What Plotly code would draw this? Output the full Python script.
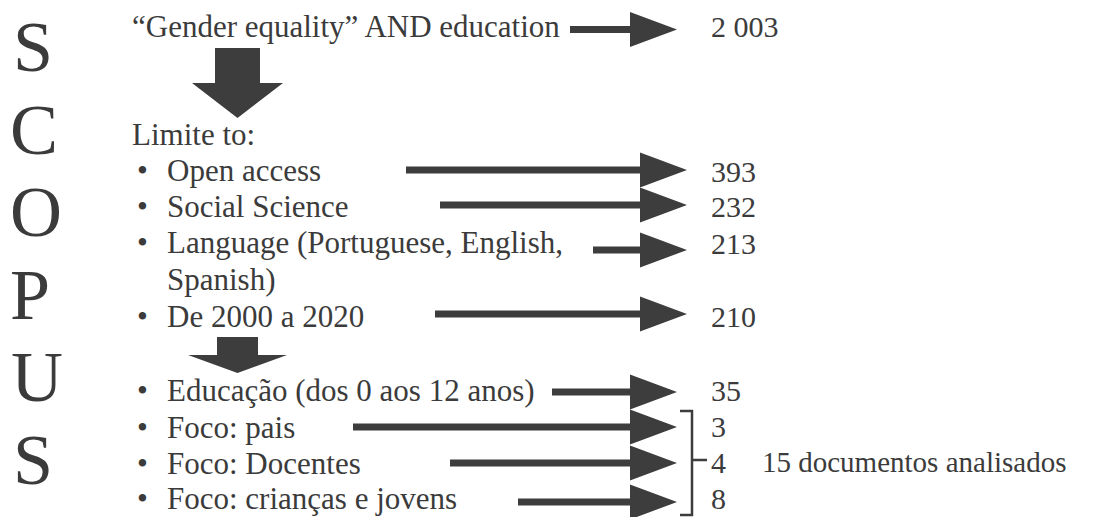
import plotly.graph_objects as go

# ---------------- data ----------------
side_letters = ["S", "C", "O", "P", "U", "S"]
query_text = "“Gender equality” AND education"
query_count = "2 003"
limit_title = "Limite to:"
filters_1 = ["Open access", "Social Science", "Language (Portuguese, English,", "De 2000 a 2020"]
filters_1_cont = "Spanish)"
counts_1 = [393, 232, 213, 210]
filters_2 = ["Educação (dos 0 aos 12 anos)", "Foco: pais", "Foco: Docentes", "Foco: crianças e jovens"]
counts_2 = [35, 3, 4, 8]
final_label = "15 documentos analisados"

# ---------------- layout parameters ----------------
W, H = 1101, 517
OFF = 8  # page body margin compensation
FONT = "Liberation Serif"
TXT = "#3b3b3b"
ARR = "#3d3d3d"
DY = -1  # text vertical nudge

letter_x = [12, 9, 9, 9, 10, 12]
letter_y = [49, 132, 214, 297, 379, 462]
query_y = 28
limit_y = 135
rows1_y = [171, 207, 243, 317]
cont_y = 280
rows2_y = [391, 428, 464, 499]
arrows1_y = [170, 205, 250, 314]
arrows1_x0 = [406, 440, 593, 435]
arrows2_y = [392, 427, 463, 502]
arrows2_x0 = [552, 353, 450, 518]
count1_y = [172, 207, 244, 317]
count2_y = [391, 427, 463, 499]


def h_arrow(x0, tip, y, t=7, hh=35, hl=47):
    hb = tip - hl
    return (f"M {x0},{y - t/2} L {hb},{y - t/2} L {hb},{y - hh/2} L {tip},{y} "
            f"L {hb},{y + hh/2} L {hb},{y + t/2} L {x0},{y + t/2} Z")


def v_arrow(xc, y0, yb, tip, sw, hw):
    return (f"M {xc - sw/2},{y0} L {xc + sw/2},{y0} L {xc + sw/2},{yb} L {xc + hw/2},{yb} "
            f"L {xc},{tip} L {xc - hw/2},{yb} L {xc - sw/2},{yb} Z")


shapes = []
annotations = []


def txt(x, y, s, size=31, anchor="left"):
    annotations.append(dict(x=x, y=y, xref="x", yref="y", text=s, showarrow=False,
                            xanchor=anchor, yanchor="middle", borderpad=0,
                            font=dict(family=FONT, size=size, color=TXT)))


def path(p):
    shapes.append(dict(type="path", path=p, xref="x", yref="y",
                       fillcolor=ARR, line=dict(width=0)))


# side letters
for ch, x, y in zip(side_letters, letter_x, letter_y):
    txt(x, y - 2, ch, size=72, anchor="left")

# query line
txt(131, query_y + DY - 1, query_text)
path(h_arrow(570, 677, 29.5))
txt(710, query_y + DY - 1, query_count, size=30)

# big down arrows
path(v_arrow(237.5, 48, 83, 118, 45, 91))
path(v_arrow(237.5, 337, 355, 373, 41, 99))

txt(131, limit_y + DY, limit_title)

# first filter group
for label, y in zip(filters_1, rows1_y):
    txt(142, y + DY, "•", size=31, anchor="center")
    txt(166, y + DY, label)
txt(166, cont_y + DY, filters_1_cont)
for x0, y in zip(arrows1_x0, arrows1_y):
    path(h_arrow(x0, 687, y))
for c, y in zip(counts_1, count1_y):
    txt(710, y + DY, str(c), size=30)

# second filter group
for label, y in zip(filters_2, rows2_y):
    txt(142, y + DY, "•", size=31, anchor="center")
    txt(166, y + DY, label)
for x0, y in zip(arrows2_x0, arrows2_y):
    path(h_arrow(x0, 677, y))
for c, y in zip(counts_2, count2_y):
    txt(710, y + DY, str(c), size=30)

# bracket
shapes.append(dict(type="path", path="M 680,411 L 692,411 L 692,515 L 680,515 M 692,460 L 707,460",
                   xref="x", yref="y", line=dict(color=ARR, width=2.5)))
txt(761, 463 + DY, final_label, size=29)

fig = go.Figure()
fig.update_layout(
    width=W, height=H, margin=dict(l=0, r=0, t=0, b=0),
    paper_bgcolor="white", plot_bgcolor="white",
    xaxis=dict(range=[OFF, W + OFF], visible=False, fixedrange=True),
    yaxis=dict(range=[H + OFF, OFF], visible=False, fixedrange=True),
    shapes=shapes, annotations=annotations, showlegend=False,
)
fig.write_html("out.html")
